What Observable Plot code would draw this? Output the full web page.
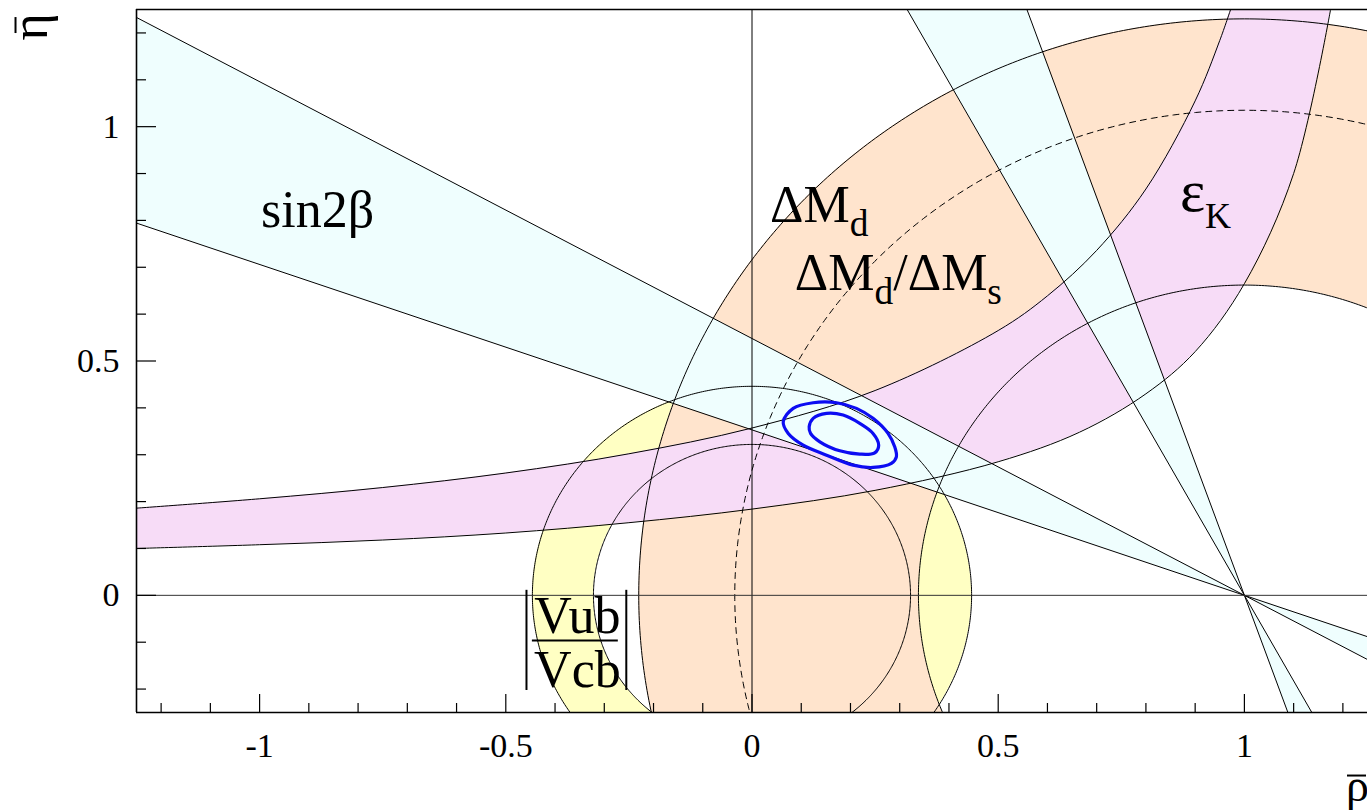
<!DOCTYPE html>
<html><head><meta charset="utf-8">
<script src="https://cdn.jsdelivr.net/npm/d3@7"></script>
<script src="https://cdn.jsdelivr.net/npm/@observablehq/plot@0.6"></script>
<style>
body{margin:0;background:#fff;}
#chart svg{display:block;}
</style></head><body><div id="chart"></div>
<script>
// ---------------- data ----------------
const xTicksMajor = [-1, -0.5, 0, 0.5, 1];
const xTicksMinor = [-1.2,-1.1,-0.9,-0.8,-0.7,-0.6,-0.4,-0.3,-0.2,-0.1,0.1,0.2,0.3,0.4,0.6,0.7,0.8,0.9,1.1,1.2];
const yTicksMajor = [0, 0.5, 1];
const yTicksMinor = [-0.2,-0.1,0.1,0.2,0.3,0.4,0.6,0.7,0.8,0.9,1.1,1.2];

// |Vub/Vcb| annulus (centre, inner and outer radius)
const vubCenter = [0, 0];
const vubRadii = [0.322, 0.446];
// ΔMd annulus
const dmdCenter = [1, 0];
const dmdRadii = [0.662, 1.23];
// ΔMd/ΔMs limit (dashed circle)
const dmsRadius = 1.035;
// sin2β: apex and the two edge slopes (tan β) of each solution
const sin2bApex = [1, 0];
const sin2bSlopesA = [0.353, 0.548];
const sin2bSlopesB = [1.825, 2.83];
// εK band boundaries
const epsUpperRho = [-1.25,-1.0,-0.75,-0.5,-0.25,0,0.25,0.5,0.6,0.7,0.8,0.9,0.95,0.972];
const epsUpperEta = [0.186,0.206,0.230,0.261,0.302,0.357,0.437,0.565,0.639,0.736,0.867,1.055,1.184,1.25];
const epsLowerRho = [-1.25,-1.0,-0.75,-0.5,-0.25,0,0.25,0.5,0.665,0.8,0.9,1.0,1.1,1.175];
const epsLowerEta = [0.100,0.108,0.118,0.133,0.155,0.184,0.224,0.285,0.348,0.43,0.52,0.665,0.90,1.25];
// fit contours
const fitOuterRho = [0.0634,0.0837,0.1242,0.1716,0.2122,0.2458,0.2762,0.2898,0.2932,0.2831,0.2458,0.2053,0.1514,0.1040,0.0736];
const fitOuterEta = [0.3703,0.3989,0.4109,0.4109,0.3989,0.3776,0.3455,0.3169,0.2955,0.2814,0.2729,0.2778,0.2991,0.3205,0.3455];
const fitInnerRho = [0.1161,0.1242,0.1514,0.1850,0.2188,0.2458,0.2573,0.2492,0.2188,0.1783,0.1378,0.1189];
const fitInnerEta = [0.3596,0.3776,0.3882,0.3846,0.3669,0.3455,0.3205,0.3041,0.3013,0.3083,0.3276,0.3455];

// ---------------- geometry helpers ----------------
const N = 720;
function ring(c, rIn, rOut) {
  return d3.range(N + 1).map(i => {
    const a = 2 * Math.PI * i / N;
    return {x1: c[0] + rOut * Math.cos(a), y1: c[1] + rOut * Math.sin(a),
            x2: c[0] + rIn * Math.cos(a),  y2: c[1] + rIn * Math.sin(a)};
  });
}
function circle(c, r) {
  return d3.range(N + 1).map(i => {
    const a = 2 * Math.PI * i / N;
    return {x: c[0] + r * Math.cos(a), y: c[1] + r * Math.sin(a)};
  });
}
function wedges(apex, slopes) {
  const L = 4;
  const [m1, m2] = slopes;
  return [
    [{x1: apex[0], y1: apex[1], x2: apex[0], y2: apex[1]},
     {x1: apex[0] - L, y1: apex[1] + m1 * L, x2: apex[0] - L, y2: apex[1] + m2 * L}],
    [{x1: apex[0], y1: apex[1], x2: apex[0], y2: apex[1]},
     {x1: apex[0] + L, y1: apex[1] - m1 * L, x2: apex[0] + L, y2: apex[1] - m2 * L}]
  ];
}
function edgeLine(apex, m) {
  const L = 4;
  return [{x: apex[0] - L, y: apex[1] + m * L}, {x: apex[0] + L, y: apex[1] - m * L}];
}

const epsBand = epsUpperRho.map((r, i) => ({x1: r, y1: epsUpperEta[i], x2: epsLowerRho[i], y2: epsLowerEta[i]}));
const epsUpper = epsUpperRho.map((r, i) => ({x: r, y: epsUpperEta[i]}));
const epsLower = epsLowerRho.map((r, i) => ({x: r, y: epsLowerEta[i]}));
const fitOuter = fitOuterRho.map((r, i) => ({x: r, y: fitOuterEta[i]}));
const fitInner = fitInnerRho.map((r, i) => ({x: r, y: fitInnerEta[i]}));

const C_YEL = "#ffffc3", C_ORA = "#ffe4cd", C_MAG = "#f7dcf7", C_CYA = "#effefe";
const FONT = "'Liberation Serif','Times New Roman',serif";
const W = 1367, H = 810, ML = 136, MR = 0, MT = 9, MB = 98;
const FW = W - ML - MR, FH = H - MT - MB;

const areaOpts = {x1: "x1", y1: "y1", x2: "x2", y2: "y2", clip: true};
const lineOpts = {x: "x", y: "y", stroke: "black", strokeWidth: 1, clip: true};

const marks = [];
// fills
marks.push(Plot.area(ring(vubCenter, vubRadii[0], vubRadii[1]), {...areaOpts, fill: C_YEL}));
marks.push(Plot.area(ring(dmdCenter, dmdRadii[0], dmdRadii[1]), {...areaOpts, fill: C_ORA}));
marks.push(Plot.area(epsBand, {...areaOpts, curve: "catmull-rom", fill: C_MAG}));
for (const w of [...wedges(sin2bApex, sin2bSlopesA), ...wedges(sin2bApex, sin2bSlopesB)])
  marks.push(Plot.area(w, {...areaOpts, fill: C_CYA}));
// outlines
for (const r of vubRadii) marks.push(Plot.line(circle(vubCenter, r), lineOpts));
for (const r of dmdRadii) marks.push(Plot.line(circle(dmdCenter, r), lineOpts));
marks.push(Plot.line(epsUpper, {...lineOpts, curve: "catmull-rom"}));
marks.push(Plot.line(epsLower, {...lineOpts, curve: "catmull-rom"}));
for (const m of [...sin2bSlopesA, ...sin2bSlopesB]) marks.push(Plot.line(edgeLine(sin2bApex, m), lineOpts));
marks.push(Plot.line(circle(dmdCenter, dmsRadius), {...lineOpts, strokeDasharray: "6,5"}));
// axes lines through origin
marks.push(Plot.ruleX([0], {stroke: "black", strokeWidth: 1}));
marks.push(Plot.ruleY([0], {stroke: "#333", strokeWidth: 1}));
// fit contours
marks.push(Plot.line(fitOuter, {x: "x", y: "y", curve: "catmull-rom-closed", stroke: "#0c0cf2", strokeWidth: 3.2}));
marks.push(Plot.line(fitInner, {x: "x", y: "y", curve: "catmull-rom-closed", stroke: "#0c0cf2", strokeWidth: 3.2}));
// labels
const labels = [
  {text: "sin2β", x: -0.997, y: 0.786},
  {text: "ΔM_{d}", x: 0.0365, y: 0.797},
  {text: "ΔM_{d}/ΔM_{s}", x: 0.087, y: 0.652}
];
marks.push(Plot.text(labels, {x: "x", y: "y", text: "text", textAnchor: "start", lineAnchor: "bottom", fontSize: 52, fontFamily: FONT, fill: "black"}));
marks.push(Plot.text([{text: "ε_{K}", x: 0.869, y: 0.82}], {x: "x", y: "y", text: "text", textAnchor: "start", lineAnchor: "bottom", fontSize: 60, fontFamily: FONT, fill: "black"}));
const fracLabels = [{text: "Vub", x: -0.3546, y: -0.0812}, {text: "Vcb", x: -0.3546, y: -0.1966}];
marks.push(Plot.text(fracLabels, {x: "x", y: "y", text: "text", textAnchor: "middle", lineAnchor: "bottom", fontSize: 52, fontFamily: FONT, fill: "black"}));
marks.push(Plot.ruleY([-0.0962], {x1: -0.446, x2: -0.2715, stroke: "black", strokeWidth: 2}));
marks.push(Plot.ruleX([-0.458, -0.2553], {y1: 0.0107, y2: -0.203, stroke: "black", strokeWidth: 2}));
// ticks (inside)
marks.push(Plot.ruleX(xTicksMinor, {x: d => d, insetTop: FH - 9, stroke: "black", strokeWidth: 1.2}));
marks.push(Plot.ruleX(xTicksMajor, {x: d => d, insetTop: FH - 18, stroke: "black", strokeWidth: 1.2}));
marks.push(Plot.ruleY(yTicksMinor, {y: d => d, insetRight: FW - 10, stroke: "black", strokeWidth: 1.2}));
marks.push(Plot.ruleY(yTicksMajor, {y: d => d, insetRight: FW - 20, stroke: "black", strokeWidth: 1.2}));
marks.push(Plot.axisX({ticks: xTicksMajor, tickSize: 0, tickPadding: 20, tickFormat: d => String(d), fontSize: 34, fontFamily: FONT, label: null}));
marks.push(Plot.axisY({ticks: yTicksMajor, tickSize: 0, tickPadding: 17, tickFormat: d => String(d), fontSize: 34, fontFamily: FONT, label: null}));
// frame (left, bottom, top)
marks.push(Plot.ruleX([-1.25], {stroke: "black", strokeWidth: 1.6}));
marks.push(Plot.ruleY([-0.25, 1.25], {stroke: "black", strokeWidth: 1.6}));
// axis titles: letter as text, overbar as a short rule
marks.push(Plot.text(["\u03B7"], {frameAnchor: "top-left", text: d => d, rotate: -90, textAnchor: "middle", lineAnchor: "bottom", dx: -90, dy: 17.5, fontSize: 52, fontFamily: FONT, fill: "black"}));
marks.push(Plot.ruleX([-1.4957], {y1: 1.2328, y2: 1.1987, stroke: "black", strokeWidth: 2}));
marks.push(Plot.text(["\u03C1"], {frameAnchor: "bottom-right", text: d => d, textAnchor: "middle", lineAnchor: "bottom", dx: -10, dy: 88, fontSize: 46, fontFamily: FONT, fill: "black"}));
marks.push(Plot.ruleY([-0.3845], {x1: 1.2094, x2: 1.248, stroke: "black", strokeWidth: 2}));

const chart = Plot.plot({
  width: W, height: H,
  marginLeft: ML, marginRight: MR, marginTop: MT, marginBottom: MB,
  x: {domain: [-1.25, 1.25]},
  y: {domain: [-0.25, 1.25]},
  style: {fontFamily: FONT, background: "white", color: "black", overflow: "visible"},
  marks
});
document.getElementById("chart").appendChild(chart);

// subscripts: "_{x}" -> tspan
chart.querySelectorAll("text").forEach(t => {
  const s = t.textContent;
  if (!s.includes("_{")) return;
  const fs = parseFloat(getComputedStyle(t).fontSize) || 50;
  t.textContent = "";
  const parts = s.split(/(_\{[^}]*\})/);
  let shifted = false;
  for (const p of parts) {
    if (!p) continue;
    const ts = document.createElementNS("http://www.w3.org/2000/svg", "tspan");
    if (p.startsWith("_{")) {
      ts.textContent = p.slice(2, -1);
      ts.setAttribute("font-size", fs * (fs > 55 ? 0.6 : 0.72));
      ts.setAttribute("dy", fs * 0.28);
      shifted = true;
    } else {
      ts.textContent = p;
      if (shifted) { ts.setAttribute("dy", -fs * 0.28); shifted = false; }
    }
    t.appendChild(ts);
  }
});
</script></body></html>
